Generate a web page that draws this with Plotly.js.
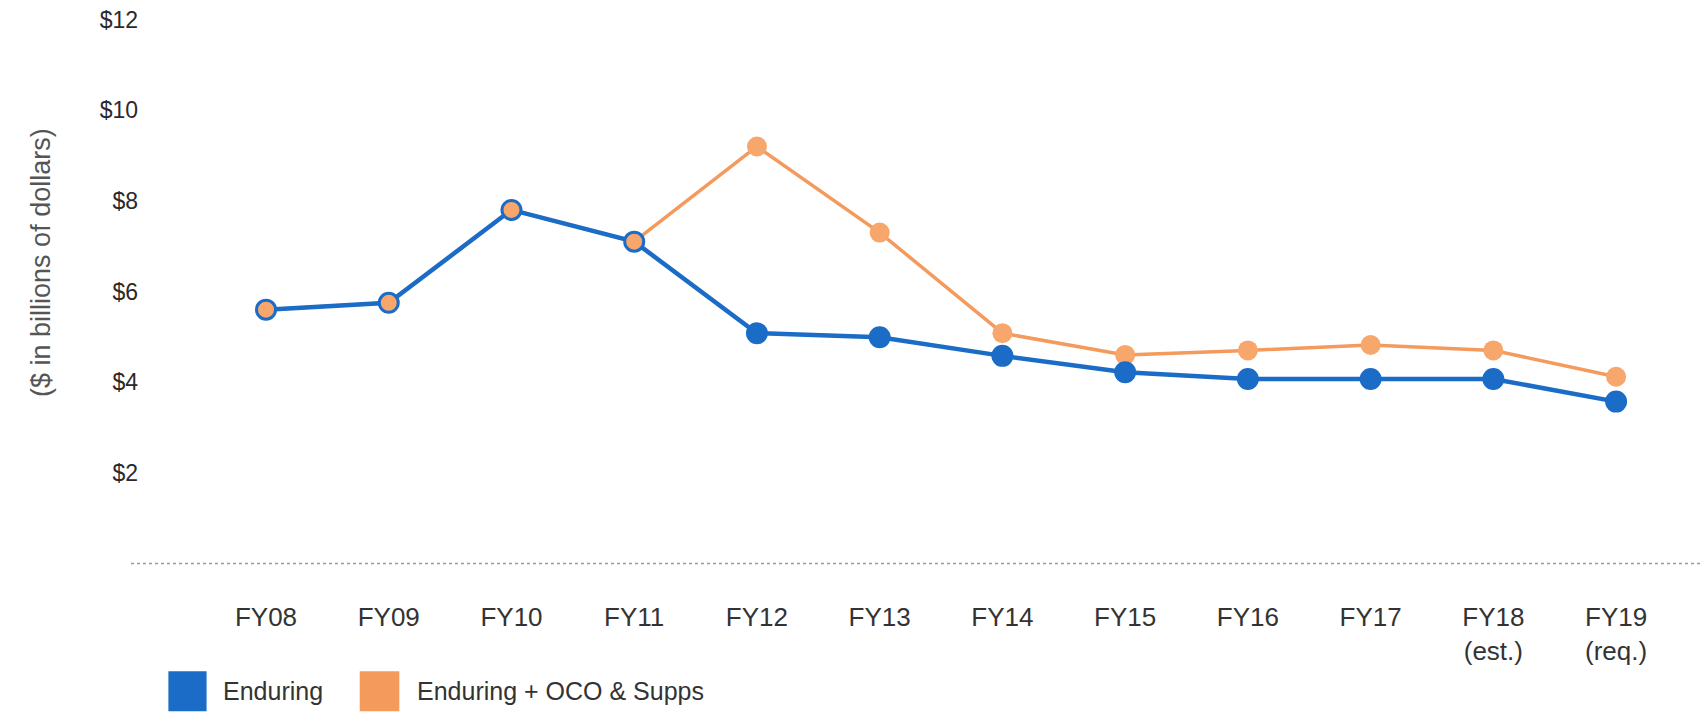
<!DOCTYPE html>
<html>
<head>
<meta charset="utf-8">
<script src="https://cdn.plot.ly/plotly-3.0.1.min.js"></script>
<style>
html,body{margin:0;padding:0;background:#fff;}
#chart{width:1704px;height:721px;}
</style>
</head>
<body>
<div id="chart"></div>
<script>
// ---- data ----
const categories = ["FY08","FY09","FY10","FY11","FY12","FY13","FY14","FY15","FY16","FY17","FY18","FY19"];
const tickLabels = ["FY08","FY09","FY10","FY11","FY12","FY13","FY14","FY15","FY16","FY17","FY18<br>(est.)","FY19<br>(req.)"];
const enduring = [5.6, 5.75, 7.8, 7.1, 5.08, 4.99, 4.58, 4.22, 4.07, 4.07, 4.07, 3.57];
const enduringOcoSupps = [5.6, 5.75, 7.8, 7.1, 9.2, 7.3, 5.08, 4.6, 4.7, 4.82, 4.7, 4.12];
const yTickVals = [2, 4, 6, 8, 10, 12];
const yTickText = ["$2", "$4", "$6", "$8", "$10", "$12"];
const seriesNames = ["Enduring", "Enduring + OCO & Supps"];
const yTitle = "($ in billions of dollars)";

// ---- style ----
const BLUE = "#1b6cc6";
const ORANGE = "#f49a5c";
const ORANGE_FILL = "#f7a66c";

// where both series coincide, the point is drawn orange-filled with a blue ring
const same = enduring.map((v, i) => v === enduringOcoSupps[i]);
const blueFill = same.map(s => s ? ORANGE_FILL : BLUE);

const traces = [
  {
    type: "scatter", mode: "lines+markers", name: seriesNames[1],
    x: categories, y: enduringOcoSupps, showlegend: false,
    line: {color: ORANGE, width: 3.5},
    marker: {color: ORANGE_FILL, size: 20, line: {width: 0}},
    hoverinfo: "x+y"
  },
  {
    type: "scatter", mode: "lines+markers", name: seriesNames[0],
    x: categories, y: enduring, showlegend: false,
    line: {color: BLUE, width: 4.5},
    marker: {color: blueFill, size: 19, line: {color: BLUE, width: 3}},
    hoverinfo: "x+y"
  }
];

const FONT = "'Liberation Sans', Arial, Helvetica, sans-serif";

const layout = {
  width: 1704, height: 721,
  margin: {l: 131, r: 2, t: 6, b: 144},
  paper_bgcolor: "#ffffff", plot_bgcolor: "#ffffff",
  showlegend: false,
  xaxis: {
    type: "category",
    range: [-1.1, 11.7],
    tickmode: "array", tickvals: categories, ticktext: tickLabels,
    showgrid: false, zeroline: false, showline: false, ticks: "",
    tickfont: {family: FONT, size: 26, color: "#333333"},
    ticklabelstandoff: 22,
    fixedrange: true
  },
  yaxis: {
    range: [-0.3, 12.3],
    tickmode: "array", tickvals: yTickVals, ticktext: yTickText,
    showgrid: false, zeroline: false, showline: false, ticks: "",
    tickfont: {family: FONT, size: 23, color: "#2a2a2a"},
    ticklabelstandoff: -8,
    fixedrange: true
  },
  shapes: [
    {type: "line", xref: "paper", yref: "y", x0: 0, x1: 1, y0: 0, y1: 0,
     line: {color: "#9a9a9a", width: 1.5, dash: "dot"}, layer: "below"},
    {type: "rect", xref: "paper", yref: "paper", x0: 0.0238, x1: 0.0481, y0: -0.235, y1: -0.165,
     fillcolor: BLUE, line: {width: 0}},
    {type: "rect", xref: "paper", yref: "paper", x0: 0.1456, x1: 0.1708, y0: -0.235, y1: -0.165,
     fillcolor: ORANGE, line: {width: 0}}
  ],
  annotations: [
    {xref: "paper", yref: "paper", x: 0, xshift: -90, y: 0.55, xanchor: "center", yanchor: "middle",
     textangle: -90, text: yTitle, showarrow: false,
     font: {family: FONT, size: 27, color: "#555555"}},
    {xref: "paper", yref: "paper", x: 0.0573, y: -0.2, xanchor: "left", yanchor: "middle",
     text: seriesNames[0], showarrow: false, font: {family: FONT, size: 25, color: "#333333"}},
    {xref: "paper", yref: "paper", x: 0.1806, y: -0.2, xanchor: "left", yanchor: "middle",
     text: seriesNames[1], showarrow: false, font: {family: FONT, size: 25, color: "#333333"}}
  ]
};

Plotly.newPlot("chart", traces, layout, {displayModeBar: false, staticPlot: true});
</script>
</body>
</html>
